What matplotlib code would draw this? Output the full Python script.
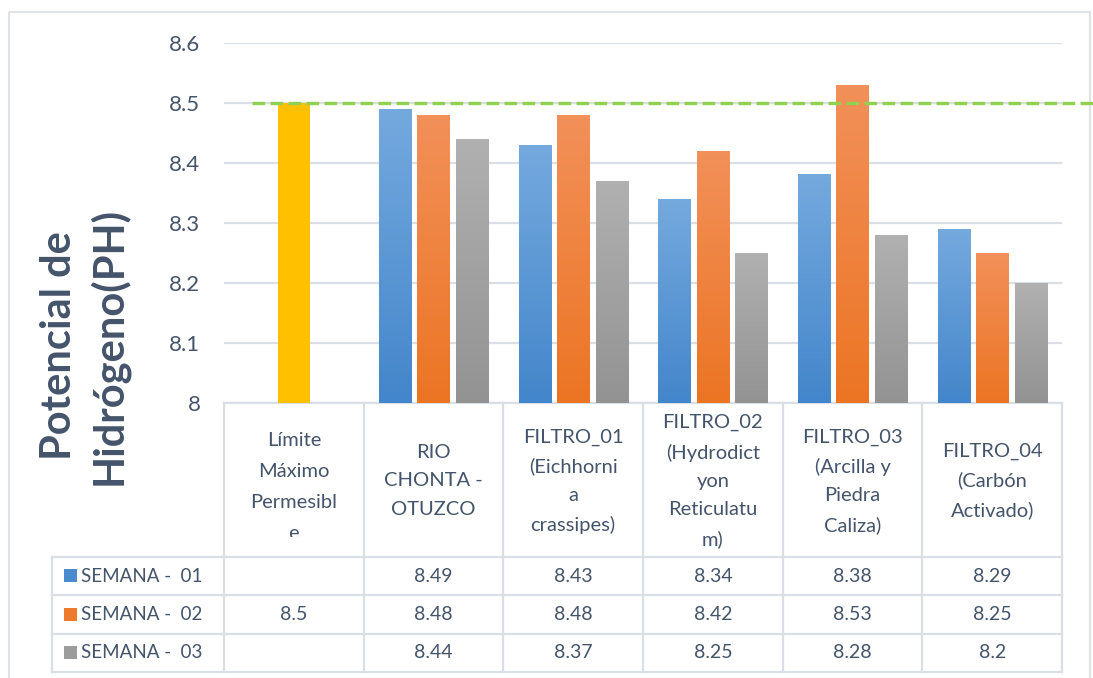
import numpy as np
import matplotlib
matplotlib.use("Agg")
import matplotlib.pyplot as plt
from matplotlib.colors import LinearSegmentedColormap
from matplotlib.transforms import blended_transform_factory
from matplotlib.patches import Rectangle

plt.rcParams['font.family'] = ['Lato', 'DejaVu Sans']

# data
categories = ["Límite\nMáximo\nPermesibl\ne",
              "RIO\nCHONTA -\nOTUZCO",
              "FILTRO_01\n(Eichhorni\na\ncrassipes)",
              "FILTRO_02\n(Hydrodict\nyon\nReticulatu\nm)",
              "FILTRO_03\n(Arcilla y\nPiedra\nCaliza)",
              "FILTRO_04\n(Carbón\nActivado)"]
series_names = ["SEMANA -  01", "SEMANA -  02", "SEMANA -  03"]
semana_01 = [None, 8.49, 8.43, 8.34, 8.38, 8.29]
semana_02 = [8.5, 8.48, 8.48, 8.42, 8.53, 8.25]
semana_03 = [None, 8.44, 8.37, 8.25, 8.28, 8.2]
limite = 8.5
y_ticks = [8, 8.1, 8.2, 8.3, 8.4, 8.5, 8.6]

series = [semana_01, semana_02, semana_03]
# (top colour, bottom colour) of the gradient fill
grad_colors = [("#74A9DE", "#4486CB"), ("#F29059", "#EC7524"), ("#B0B0B0", "#939393")]
legend_colors = ["#4A8BCE", "#EE7A2E", "#9C9C9C"]
limit_bar_color = "#FFC000"
text_color = "#44546A"
line_gray = "#DADFE6"

W, H = 1093, 678
fig = plt.figure(figsize=(W / 100, H / 100), dpi=100)

# overlay in pixel coordinates (frame + table)
over = fig.add_axes([0, 0, 1, 1], zorder=0)
over.set_xlim(0, W)
over.set_ylim(H, 0)
over.axis("off")
over.add_patch(Rectangle((9, 12), 1081, 700, fill=False, ec="#DEE2E8", lw=1.5))

# plot area
x0, x1, ytop, ybot = 224, 1062, 43, 403
ax = fig.add_axes([x0 / W, 1 - ybot / H, (x1 - x0) / W, (ybot - ytop) / H], zorder=1)
ax.patch.set_alpha(0)
ax.set_xlim(0, len(categories))
ax.set_ylim(8.0, 8.6)

bar_w = 0.23
step = 0.276
ymin = 8.0
for s, vals in enumerate(series):
    for i, v in enumerate(vals):
        if v is None:
            continue
        xc = i + 0.5 + (s - 1) * step
        if s == 1 and i == 0:
            ax.bar(xc, v - ymin, bottom=ymin, width=bar_w, color=limit_bar_color, zorder=2)
            continue
        top_c, bot_c = grad_colors[s]
        cmap = LinearSegmentedColormap.from_list("g", [bot_c, top_c])
        grad = np.linspace(1, 0, 50).reshape(-1, 1)
        ax.imshow(grad, cmap=cmap, aspect="auto", zorder=2, vmin=0, vmax=1,
                  extent=(xc - bar_w / 2, xc + bar_w / 2, ymin, v), interpolation="bilinear")

ax.set_xlim(0, len(categories))
ax.set_ylim(8.0, 8.6)
ax.set_yticks(y_ticks)
ax.set_yticklabels(["%g" % t for t in y_ticks])
ax.grid(axis="y", color=line_gray, lw=1.6, zorder=0)
ax.set_axisbelow(True)
ax.tick_params(axis="y", length=0, pad=17, labelsize=16, labelcolor=text_color)
ax.tick_params(axis="x", length=0, labelbottom=False)
for sp in ax.spines.values():
    sp.set_visible(False)

# limit line (dashed green), runs past the plot area
ax.plot([0.2, 6.22], [limite, limite], color="#92D050", lw=2.4,
        dashes=(3.8, 1.6), clip_on=False, zorder=3)

# y label
fig.text(84 / W, 1 - 346 / H, "Potencial de\nHidrógeno(PH)", rotation=90,
         ha="center", va="center", fontsize=30, fontweight="bold",
         color=text_color, linespacing=1.3)

# data table
tr = blended_transform_factory(ax.transData, over.transData)
n = len(categories)
head_top, head_bot = 403, 557
row_edges = [557, 595, 634, 672]
tab_left = 52
# horizontal lines
over.plot([0, n], [head_top, head_top], color=line_gray, lw=1.6, transform=tr)
for yy in row_edges:
    over.plot([tab_left, x0], [yy, yy], color=line_gray, lw=1.6)
    over.plot([0, n], [yy, yy], color=line_gray, lw=1.6, transform=tr)
# vertical lines
for i in range(n + 1):
    over.plot([i, i], [head_top, row_edges[-1]], color=line_gray, lw=1.6, transform=tr)
over.plot([tab_left, tab_left], [row_edges[0], row_edges[-1]], color=line_gray, lw=1.6)

# first header label overflows its cell and gets cut, like in Excel
clip = Rectangle((0, head_top), 1, 134, transform=blended_transform_factory(fig.transFigure, over.transData))
for i, cat in enumerate(categories):
    t = over.text(i + 0.5, 487 if i == 0 else 481, cat, transform=tr, ha="center", va="center",
                  fontsize=14.5, color=text_color, multialignment="center",
                  linespacing=2.0 if i == 0 else 1.8)
    if i == 0:
        t.set_clip_path(clip)
        t.set_clip_on(True)

for s, vals in enumerate(series):
    yc = (row_edges[s] + row_edges[s + 1]) / 2
    over.add_patch(Rectangle((64, yc - 7), 13, 13, color=legend_colors[s], lw=0))
    over.text(81, yc, series_names[s], ha="left", va="center", fontsize=13.5, color=text_color)
    for i, v in enumerate(vals):
        if v is None:
            continue
        over.text(i + 0.5, yc, "%g" % v, transform=tr, ha="center", va="center",
                  fontsize=14, color=text_color)

fig.savefig("out.png", dpi=100)
